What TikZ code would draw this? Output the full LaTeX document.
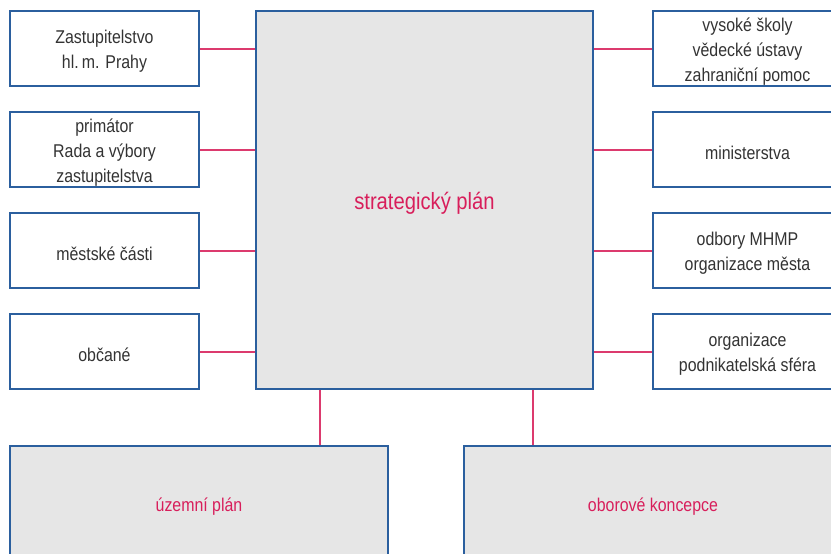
\documentclass[tikz,border=0pt]{standalone}
\usepackage{fontspec}
\setmainfont[FakeStretch=0.86]{Liberation Sans}
\usetikzlibrary{calc,positioning}
\definecolor{ramec}{HTML}{2B5F9E}
\definecolor{spoj}{HTML}{DC3A6E}
\definecolor{napis}{HTML}{D81E5B}
\definecolor{vypln}{HTML}{E6E6E6}
\definecolor{text}{HTML}{333333}
\newcommand*{\bW}{189}
\newcommand*{\bH}{75}
\newcommand*{\bGap}{101}
\tikzset{
	box/.style={draw=ramec,line width=1.6pt,fill=white,rectangle,inner sep=0pt,
		minimum width=\bW pt,minimum height=\bH pt},
	plan/.style={box,fill=vypln},
	lab/.style={align=center,text=text,yshift=-3pt,inner sep=0pt,
		font=\fontsize{18.5}{25}\selectfont},
	planlab/.style={lab,text=napis},
	link/.style={draw=spoj,line width=2pt},
	vlink/.style={draw=spoj,line width=1.5pt}
}
\begin{document}
\begin{tikzpicture}[x=1pt,y=-1pt]
	\clip (0,0) rectangle (831,554);
	\fill[white] (0,0) rectangle (831,554);

	% central plan
	\node[plan,minimum width=337pt,minimum height=378pt,
		label={[planlab,font=\fontsize{23.5}{28}\selectfont]center:strategický plán}] (strat) at (424.5,200) {};

	% left side
	\node[box,label={[lab]center:Zastupitelstvo\\hl.\,m. Prahy}] (l1) at (104.5,48.5) {};
	\node[box,label={[lab]center:primátor\\Rada a výbory\\zastupitelstva}] (l2) at (104.5,48.5+\bGap) {};
	\node[box,label={[lab]center:městské části}] (l3) at (104.5,48.5+2*\bGap) {};
	\node[box,label={[lab]center:občané}] (l4) at (104.5,48.5+3*\bGap) {};

	% right side
	\node[box,label={[lab]center:vysoké školy\\vědecké ústavy\\zahraniční pomoc}] (r1) at (747.5,48.5) {};
	\node[box,label={[lab]center:ministerstva}] (r2) at (747.5,48.5+\bGap) {};
	\node[box,label={[lab]center:odbory MHMP\\organizace města}] (r3) at (747.5,48.5+2*\bGap) {};
	\node[box,label={[lab]center:organizace\\podnikatelská sféra}] (r4) at (747.5,48.5+3*\bGap) {};

	% bottom
	\node[plan,minimum width=378pt,minimum height=116pt,label={[planlab]center:územní plán}] (uzemni) at (199,504) {};
	\node[plan,minimum width=378pt,minimum height=116pt,label={[planlab]center:oborové koncepce}] (obor) at (653,504) {};

	\foreach \i in {1,...,4} {
		\draw[link] (l\i.east) -- (l\i.east -| strat.west);
		\draw[link] (r\i.west) -- (r\i.west -| strat.east);
	}
	\draw[vlink] ([xshift=65pt]strat.south west) -- ([xshift=65pt]strat.south west |- uzemni.north);
	\draw[vlink] ([xshift=278pt]strat.south west) -- ([xshift=278pt]strat.south west |- obor.north);
\end{tikzpicture}
\end{document}
